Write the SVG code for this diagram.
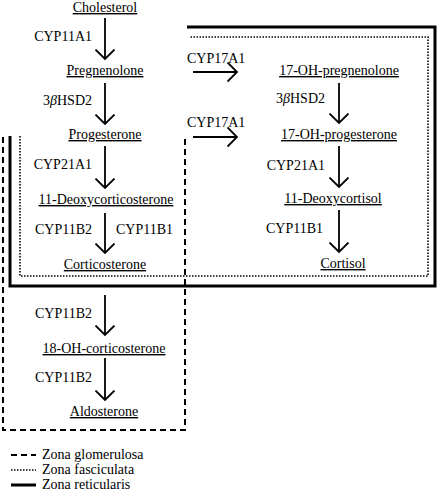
<svg xmlns="http://www.w3.org/2000/svg" width="439" height="500" viewBox="0 0 439 500" font-family="Liberation Serif, Times New Roman, DejaVu Serif, serif" font-size="14">
<style>
text{font-family:'Liberation Serif','Times New Roman','DejaVu Serif',serif;font-size:14px;fill:#000}
.n{text-anchor:middle;text-decoration:underline}
.e{text-anchor:end}
.c{stroke:#000;stroke-width:1.8;fill:none;marker-end:url(#ah)}
.zr{stroke:#000;stroke-width:3;fill:none}
.zf{stroke:#000;stroke-width:1.6;fill:none;stroke-dasharray:1.5 1.5}
.zg{stroke:#000;stroke-width:2;fill:none;stroke-dasharray:6 4}
</style>
<defs>
<marker id="ah" markerUnits="userSpaceOnUse" markerWidth="12" markerHeight="22" viewBox="0 0 12 22" refX="10.5" refY="11" orient="auto">
<path d="M1,1.5 L10.5,11 L1,20.5" fill="none" stroke="#000" stroke-width="1.8"/>
</marker>
</defs>
<g id="zones">
<path id="zona-reticularis" class="zr" d="M10,136 V286 H435 V27 H187"/>
<path id="zona-fasciculata" class="zf" d="M20,136 V276 H428 V37 H190"/>
<path id="zona-glomerulosa" class="zg" d="M3,137 V430 H185 V137"/>
</g>
<g id="connectors">
<line class="c" x1="105" y1="18" x2="105" y2="59"/>
<line class="c" x1="105" y1="83" x2="105" y2="124"/>
<line class="c" x1="105" y1="146" x2="105" y2="188"/>
<line class="c" x1="105" y1="213" x2="105" y2="253"/>
<line class="c" x1="105" y1="295" x2="105" y2="335"/>
<line class="c" x1="105" y1="358" x2="105" y2="400"/>
<line class="c" x1="339" y1="83" x2="339" y2="123"/>
<line class="c" x1="339" y1="146" x2="339" y2="187"/>
<line class="c" x1="339" y1="210" x2="339" y2="252"/>
<line class="c" x1="193" y1="72" x2="237" y2="72"/>
<line class="c" x1="193" y1="137" x2="237" y2="137"/>
<text class="e" x="92" y="41">CYP11A1</text>
<text class="e" x="92" y="105">3<tspan font-style="italic">β</tspan>HSD2</text>
<text class="e" x="92" y="169">CYP21A1</text>
<text class="e" x="92" y="234">CYP11B2</text>
<text x="116" y="234">CYP11B1</text>
<text class="e" x="92" y="318">CYP11B2</text>
<text class="e" x="92" y="382">CYP11B2</text>
<text class="e" x="325" y="103">3<tspan font-style="italic">β</tspan>HSD2</text>
<text class="e" x="325" y="170">CYP21A1</text>
<text class="e" x="323" y="233">CYP11B1</text>
<text x="187" y="63">CYP17A1</text>
<text x="187" y="127">CYP17A1</text>
</g>
<g id="cholesterol"><text class="n" x="105" y="12">Cholesterol</text></g>
<g id="pregnenolone"><text class="n" x="105" y="75">Pregnenolone</text></g>
<g id="progesterone"><text class="n" x="105" y="139">Progesterone</text></g>
<g id="deoxycorticosterone"><text class="n" x="106" y="204">11-Deoxycorticosterone</text></g>
<g id="corticosterone"><text class="n" x="105" y="269">Corticosterone</text></g>
<g id="oh-corticosterone"><text class="n" x="104" y="353">18-OH-corticosterone</text></g>
<g id="aldosterone"><text class="n" x="104" y="416">Aldosterone</text></g>
<g id="oh-pregnenolone"><text class="n" x="339" y="75">17-OH-pregnenolone</text></g>
<g id="oh-progesterone"><text class="n" x="339" y="139">17-OH-progesterone</text></g>
<g id="deoxycortisol"><text class="n" x="333" y="203">11-Deoxycortisol</text></g>
<g id="cortisol"><text class="n" x="343" y="268">Cortisol</text></g>
<g id="legend">
<line class="zg" x1="11" y1="455" x2="36" y2="455" stroke-dasharray="3.5 2.5" stroke-width="1.2"/>
<line class="zf" x1="11" y1="470" x2="36" y2="470" stroke-dasharray="1 1" stroke-width="1"/>
<line class="zr" x1="11" y1="485" x2="36" y2="485" stroke-width="2.5"/>
<text x="42" y="459">Zona glomerulosa</text>
<text x="42" y="474">Zona fasciculata</text>
<text x="42" y="489">Zona reticularis</text>
</g>
</svg>
